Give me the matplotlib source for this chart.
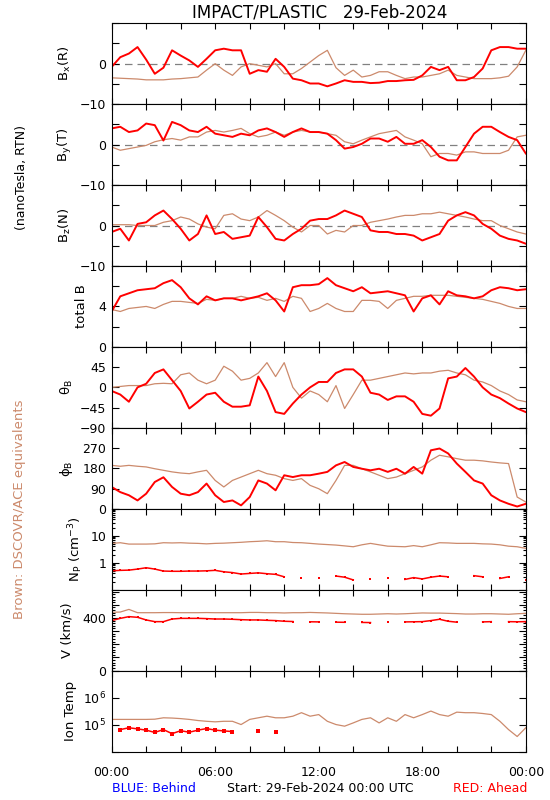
import numpy as np
import matplotlib
matplotlib.use("Agg")
import matplotlib.pyplot as plt
from matplotlib.ticker import MultipleLocator, LogLocator, NullFormatter, NullLocator

nan = np.nan
RED = '#ff0000'
BROWN = '#cc8a6c'

# time axis, hours since 29-Feb-2024 00:00 UTC (30 min steps)
hours = np.arange(0, 24.5, 0.5)

# magnetic field, RTN (nT): "ahead" = STEREO-A (red), "dscovr" = DSCOVR/ACE (brown)
bx_ahead = [-0.8, 1.6, 2.5, 4.1, 1.0, -2.5, -1.0, 3.3,
            2.0, 0.8, -0.8, 1.2, 3.3, 3.7, 3.3, 3.3,
            -2.5, -1.6, -2.0, 1.2, -0.8, -3.7, -4.1, -4.9,
            -4.9, -5.6, -4.9, -4.1, -4.5, -4.5, -4.8, -4.7,
            -4.3, -4.3, -4.1, -4.0, -2.9, -0.8, -1.6, -0.8,
            -4.1, -4.1, -3.3, -1.2, 3.3, 4.1, 4.1, 3.7,
            3.7]
bx_dscovr = [-3.5, -3.6, -3.7, -3.8, -4.0, -4.0, -4.0, -3.8,
             -3.7, -3.5, -3.3, -1.6, 0.0, -1.6, -2.9, -0.8,
             0.0, -0.4, -0.8, 0.0, -2.5, -2.5, -1.2, 0.4,
             2.0, 3.3, -1.0, -2.9, -1.6, -3.3, -2.9, -2.0,
             -2.0, -2.9, -3.7, -3.3, -3.3, -2.9, -2.5, -1.6,
             -2.9, -3.3, -3.7, -3.7, -3.7, -3.5, -3.1, -0.8,
             3.3]
by_ahead = [4.0, 4.4, 3.1, 3.5, 5.2, 4.8, 1.0, 5.6,
            4.8, 3.5, 3.1, 4.4, 2.7, 2.3, 1.9, 2.7,
            2.3, 3.5, 4.0, 3.1, 1.9, 3.1, 4.0, 3.1,
            3.1, 2.7, 1.1, -1.0, -0.6, 0.2, 1.5, 1.5,
            0.7, 1.9, 0.2, 0.2, 1.1, -0.6, -3.0, -3.9,
            -3.9, -0.6, 2.7, 4.4, 4.4, 3.1, 1.9, 1.1,
            -2.2]
by_dscovr = [-0.6, -1.4, -1.0, -0.6, -0.2, 0.7, 1.2, 1.5,
             1.1, 1.9, 1.9, 3.1, 3.5, 3.1, 3.5, 4.0,
             2.7, 1.9, 2.3, 3.1, 2.3, 3.1, 3.5, 3.1,
             3.1, 2.7, 2.3, 0.7, 0.2, 1.1, 1.9, 2.7,
             3.1, 3.5, 1.9, 1.1, 0.2, -3.0, -2.2, -2.2,
             -2.6, -1.8, -1.8, -2.2, -2.2, -2.2, -1.4, 1.9,
             2.3]
bz_ahead = [-1.6, -0.8, -3.7, 0.4, 0.8, 2.5, 3.7, 1.6,
            -0.8, -3.7, -2.1, 2.5, -2.1, -1.6, -3.3, -2.9,
            -2.5, 2.1, -0.4, -3.3, -3.7, -2.1, -0.8, 1.2,
            1.6, 1.6, 2.5, 3.7, 2.9, 2.1, -1.2, -1.6,
            -1.6, -2.1, -2.1, -2.5, -3.7, -2.9, -2.1, 1.2,
            2.5, 3.3, 2.5, 0.4, -0.8, -2.5, -3.3, -3.7,
            -4.5]
bz_dscovr = [0.2, 0.2, 0.2, 0.0, 0.0, 0.0, 0.8, 1.2,
             2.1, 1.6, 0.4, -0.4, -0.8, 2.5, 2.9, 1.6,
             1.2, 2.1, 3.7, 2.5, 1.2, -0.4, -1.6, 0.0,
             0.0, -2.1, -1.2, -1.6, 0.0, 0.0, 0.8, 1.2,
             1.6, 2.1, 2.5, 2.5, 2.9, 2.9, 3.3, 2.9,
             2.5, 2.1, 1.6, 1.2, 1.2, 0.0, -0.8, -1.6,
             -2.1]
bt_ahead = [3.5, 5.0, 5.3, 5.6, 5.7, 5.8, 6.3, 6.6,
            5.9, 4.8, 4.2, 5.0, 4.6, 4.8, 4.8, 4.6,
            4.8, 5.0, 5.3, 4.6, 3.5, 5.9, 6.1, 6.1,
            6.2, 6.8, 6.1, 5.8, 5.5, 5.9, 5.3, 5.4,
            5.5, 5.3, 5.1, 3.5, 4.8, 5.1, 4.2, 5.5,
            5.1, 5.0, 4.8, 5.0, 5.6, 5.9, 5.8, 5.6,
            5.7]
bt_dscovr = [3.7, 3.5, 3.8, 3.9, 4.0, 3.8, 4.2, 4.5,
             4.5, 4.4, 4.3, 4.7, 4.6, 4.8, 4.8, 5.0,
             4.8, 4.9, 4.6, 4.8, 4.5, 5.0, 4.8, 3.5,
             3.8, 4.3, 3.8, 3.5, 3.5, 4.6, 4.6, 4.5,
             3.8, 4.6, 4.8, 5.0, 5.0, 5.1, 5.1, 5.1,
             5.0, 4.9, 4.8, 4.7, 4.5, 4.3, 4.0, 3.8,
             3.8]
theta_ahead = [-8, -16, -32, 0, 8, 32, 40, 16,
               -8, -47, -32, -16, -12, -32, -43, -43,
               -40, 24, -8, -55, -59, -36, -16, 0,
               12, 12, 32, 40, 40, 24, -12, -16,
               -28, -20, -20, -32, -59, -63, -47, 20,
               24, 43, 24, 0, -16, -24, -36, -47,
               -55]
theta_dscovr = [0, 2, 4, 4, 4, 8, 9, 8,
                28, 32, 16, 8, 16, 47, 36, 16,
                20, 32, 55, 24, 55, 0, -24, -8,
                -16, -32, 4, -47, -16, 16, 16, 20,
                24, 28, 32, 30, 32, 32, 36, 38,
                32, 28, 16, 12, 4, -8, -16, -28,
                -32]
phi_ahead = [97, 74, 60, 37, 67, 119, 140, 97,
             67, 60, 74, 112, 60, 30, 37, 15,
             52, 126, 112, 82, 149, 141, 149, 149,
             156, 164, 193, 208, 186, 178, 171, 178,
             164, 178, 156, 186, 156, 260, 268, 246,
             201, 164, 126, 112, 60, 37, 22, 10,
             22]
phi_dscovr = [193, 189, 193, 189, 186, 178, 171, 164,
              159, 156, 164, 171, 126, 97, 126, 141,
              156, 171, 156, 149, 134, 126, 134, 104,
              89, 67, 126, 193, 193, 178, 164, 149,
              134, 141, 156, 171, 186, 216, 238, 231,
              223, 216, 216, 213, 208, 204, 201, 52,
              30]

# plasma
np_ahead = [0.50, 0.52, 0.53, 0.58, 0.65, 0.58, 0.49, 0.48,
            0.48, 0.49, 0.49, 0.50, 0.52, 0.46, 0.43, 0.38,
            0.40, 0.42, 0.39, 0.37, 0.30, nan, 0.28, nan,
            0.27, nan, 0.32, 0.29, 0.23, nan, 0.25, nan,
            0.26, nan, 0.24, 0.28, 0.25, 0.29, 0.32, 0.30,
            nan, nan, 0.33, 0.30, nan, 0.26, 0.30, nan,
            0.23]
np_dscovr = [5.2, 5.5, 4.9, 4.9, 4.9, 5.0, 5.5, 5.4,
             5.5, 5.3, 5.2, 5.0, 5.2, 5.3, 5.5, 5.7,
             6.0, 6.2, 6.5, 6.0, 6.0, 5.6, 5.5, 5.2,
             4.9, 4.7, 4.5, 4.2, 3.9, 4.6, 5.2, 4.6,
             4.1, 4.0, 3.9, 4.3, 3.9, 4.6, 5.5, 5.4,
             5.2, 5.2, 5.2, 5.0, 4.9, 4.6, 4.1, 3.9,
             3.4]
v_ahead = [380, 397, 410, 405, 385, 372, 372, 392,
           397, 397, 397, 395, 392, 392, 390, 387,
           385, 385, 382, 380, 375, 373, nan, 371,
           370, nan, 368, 367, nan, 366, 365, nan,
           368, nan, 370, 371, 372, 380, 390, 375,
           368, nan, nan, 370, 372, nan, 372, 371,
           372]
v_dscovr = [443, 445, 465, 440, 440, 440, 441, 441,
            440, 440, 440, 441, 440, 440, 440, 440,
            442, 442, 440, 440, 438, 440, 440, 442,
            440, 438, 435, 432, 430, 428, 428, 430,
            432, 430, 432, 435, 438, 437, 437, 435,
            433, 430, 430, 432, 432, 430, 428, 432,
            435]
t_ahead = [nan, 65000, 76000, 69000, 62000, 51000, 65000, 46000,
           59000, 52000, 62000, 71000, 62000, 58000, 55000, nan,
           nan, 60000, nan, 53000, nan, nan, nan, nan,
           nan, nan, nan, nan, nan, nan, nan, nan,
           nan, nan, nan, nan, nan, nan, nan, nan,
           nan, nan, nan, nan, nan, nan, nan, nan,
           nan]
t_dscovr = [155000, 155000, 155000, 155000, 155000, 158000, 178000, 174000,
            166000, 155000, 141000, 132000, 126000, 132000, 132000, 100000,
            155000, 178000, 204000, 178000, 178000, 204000, 275000, 204000,
            234000, 132000, 100000, 87000, 115000, 155000, 178000, 115000,
            178000, 132000, 234000, 178000, 234000, 316000, 234000, 204000,
            288000, 275000, 275000, 257000, 234000, 132000, 65000, 36000,
            76000]

xtick_labels = ['00:00', '', '', '06:00', '', '', '12:00', '', '', '18:00', '', '', '00:00']

plt.rcParams['font.family'] = 'DejaVu Sans'
plt.rcParams['mathtext.default'] = 'regular'

fig, axes = plt.subplots(9, 1, figsize=(5.5, 8), dpi=100, sharex=True)
fig.subplots_adjust(left=0.203, right=0.956, top=0.971, bottom=0.0606, hspace=0)

AX_LEFT, AX_W = 111.7, 414.3

# (ylabel, ahead, dscovr, limits, ticks, ticklabels, label x in px)
panels = [
    ('B$_x$(R)', bx_ahead, bx_dscovr, (-10, 10), [-10, -5, 0, 5, 10], ['\u221210', '', '0', '', ''], 65),
    ('B$_y$(T)', by_ahead, by_dscovr, (-10, 10), [-10, -5, 0, 5, 10], ['\u221210', '', '0', '', ''], 65),
    ('B$_z$(N)', bz_ahead, bz_dscovr, (-10, 10), [-10, -5, 0, 5, 10], ['\u221210', '', '0', '', ''], 65),
    ('total B', bt_ahead, bt_dscovr, (0, 8), [0, 2, 4, 6, 8], ['0', '', '4', '', ''], 82),
    (r'$\theta_B$', theta_ahead, theta_dscovr, (-90, 90), [-90, -45, 0, 45, 90],
     ['\u221290', '\u221245', '0', '45', ''], 67),
    (r'$\phi_B$', phi_ahead, phi_dscovr, (0, 360), [0, 90, 180, 270, 360], ['0', '90', '180', '270', ''], 67),
    ('N$_P$ (cm$^{-3}$)', np_ahead, np_dscovr, (0.1, 100), [0.1, 1, 10, 100], ['', '1', '10', ''], 76),
    ('V (km/s)', v_ahead, v_dscovr, (0, 615), [0, 100, 200, 300, 400, 500, 600],
     ['0', '', '', '', '400', '', ''], 67),
    ('Ion Temp', t_ahead, t_dscovr, (1e4, 1e7), [1e4, 1e5, 1e6, 1e7], ['', '$10^5$', '$10^6$', ''], 71),
]

for i, (ax, (label, ahead, dscovr, lim, ticks, tlabels, lx)) in enumerate(zip(axes, panels)):
    if i in (6, 8):
        ax.set_yscale('log')
    ax.plot(hours, dscovr, color=BROWN, lw=0.9)
    if i >= 6:
        ms = 2.5 if i == 8 else 1.5
        ax.plot(hours, ahead, color=RED, lw=1.1, marker='s', ms=ms, mew=0)
    else:
        ax.plot(hours, ahead, color=RED, lw=1.4)
    if i < 3:
        ax.axhline(0, color='#808080', lw=0.9, ls=(0, (6, 4)), zorder=0)

    ax.set_ylim(*lim)
    ax.set_yticks(ticks)
    ax.set_yticklabels(tlabels)
    if i == 6:
        ax.yaxis.set_minor_locator(LogLocator(base=10, subs=range(2, 10)))
        ax.yaxis.set_minor_formatter(NullFormatter())
    elif i == 7:
        ax.yaxis.set_minor_locator(MultipleLocator(20))
    else:
        ax.yaxis.set_minor_locator(NullLocator())

    ax.set_xlim(0, 24)
    ax.set_xticks(range(0, 25, 2))
    ax.set_xticklabels(xtick_labels)
    ax.tick_params(which='both', direction='in', top=True, right=True, labelsize=9, width=0.8)
    ax.tick_params(axis='y', which='major', length=5, pad=4)
    ax.tick_params(axis='y', which='minor', length=2.5)
    ax.tick_params(axis='x', which='major', length=4, pad=10.5)
    for s in ax.spines.values():
        s.set_linewidth(0.8)

    ax.set_ylabel(label, fontsize=9.5, va='center')
    ax.yaxis.set_label_coords((lx - AX_LEFT) / AX_W, 0.5)

fig.text(0.581, 0.9846, 'IMPACT/PLASTIC   29-Feb-2024', ha='center', va='center', fontsize=12)
fig.text(22 / 550, 1 - 177 / 800, '(nanoTesla, RTN)', rotation=90, ha='center', va='center', fontsize=9)
fig.text(20 / 550, 1 - 509 / 800, 'Brown: DSCOVR/ACE equivalents', rotation=90,
         ha='center', va='center', fontsize=9.5, color=BROWN)

fig.text(112 / 550, 1 - 789 / 800, 'BLUE: Behind', ha='left', va='center', fontsize=9, color='#0000ff')
fig.text(320 / 550, 1 - 789 / 800, 'Start: 29-Feb-2024 00:00 UTC', ha='center', va='center', fontsize=9)
fig.text(527 / 550, 1 - 789 / 800, 'RED: Ahead', ha='right', va='center', fontsize=9, color=RED)

fig.savefig('out.png', dpi=100)
